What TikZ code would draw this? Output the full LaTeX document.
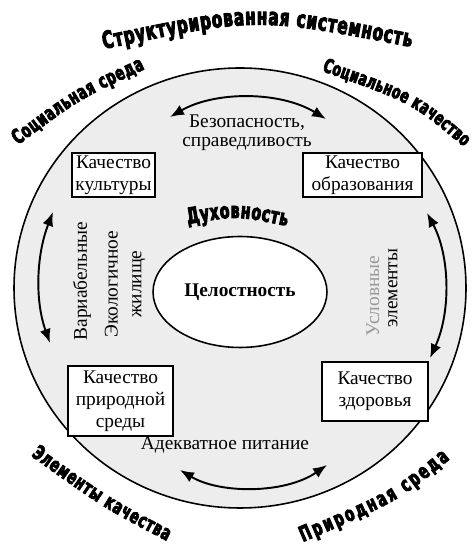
\documentclass[tikz,border=0pt]{standalone}
\usepackage{fontspec}
\setmainfont{Liberation Serif}
\newfontfamily\heavyfont[FakeStretch=0.64,FakeBold=4]{DejaVu Sans Bold}
\usetikzlibrary{shapes.geometric,decorations.text,arrows.meta}

\begin{document}
\begin{tikzpicture}[x=0.02cm, y=0.02cm, font=\fontsize{11}{12.5}\selectfont,
  qualbox/.style={draw, line width=0.9pt, fill=white, align=center, inner sep=1pt},
  twoway/.style={line width=1.1pt, {Latex[length=2.8mm,width=2.2mm]}-{Latex[length=2.8mm,width=2.2mm]}},
  arctext/.style={decorate, decoration={text along path, text align={fit to path}, text={#1}}}]
  \useasboundingbox (0,0) rectangle (472,546);
  \draw[line width=0.9pt, fill=black!7] (240,258) ellipse [x radius=226, y radius=220];
  \node[draw, ellipse, line width=0.9pt, fill=white, minimum width=2.62cm, minimum height=2.22cm, font=\bfseries\fontsize{11}{12.5}\selectfont] (whole) at (240,254) {Целостность};
  \node[qualbox, minimum width=1.66cm, minimum height=0.88cm] (culture) at (113.5,371) {Качество\\культуры};
  \node[qualbox, minimum width=2.38cm, minimum height=0.88cm] (educ) at (362.5,371) {Качество\\образования};
  \node[qualbox, minimum width=2.1cm, minimum height=1.4cm] (nature) at (120.5,145) {Качество\\природной\\среды};
  \node[qualbox, minimum width=2.12cm, minimum height=1.18cm] (health) at (375,154.5) {Качество\\здоровья};
  \node[align=center, font=\fontsize{11}{11}\selectfont] (safety) at (247,413) {Безопасность,\\справедливость};
  \node (food) at (225,101) {Адекватное питание};
  \node[rotate=90] (variab) at (82,265) {Вариабельные};
  \node[rotate=90, align=center, font=\fontsize{11}{13.5}\selectfont] (house) at (125,262) {Экологичное\\жилище};
  \node[rotate=90, text=black!40] (cond) at (373,250) {Условные};
  \node[rotate=90] (elems) at (393,258) {элементы};
  \coordinate (tl) at (170,429);
  \coordinate (tr) at (326,427);
  \coordinate (lt) at (53,334);
  \coordinate (lb) at (50,203);
  \coordinate (rt) at (427,333);
  \coordinate (rb) at (430,188);
  \coordinate (bl) at (180,76);
  \coordinate (br) at (327,81);
  \draw[twoway] (tl) .. controls (215,455) and (280,455) .. (tr);
  \draw[twoway] (lt) .. controls (36,290) and (35,245) .. (lb);
  \draw[twoway] (rt) .. controls (450,290) and (451,234) .. (rb);
  \draw[twoway] (bl) .. controls (220,52) and (285,52) .. (br);
  \path[arctext={|\heavyfont\fontsize{12.5}{14}\selectfont|Духовность}] (188,322) .. controls (236.8,330.3) .. (287,320);
  \path[arctext={|\heavyfont\fontsize{13.5}{15}\selectfont|Структурированная системность}] (104,497) .. controls (257,529) .. (411,499);
  \path[arctext={|\heavyfont\fontsize{11.5}{13}\selectfont|Социальная среда}] (18,401) .. controls (79.5,447) .. (145,477);
  \path[arctext={|\heavyfont\fontsize{11}{13}\selectfont|Социальное качество}] (322,475) .. controls (412,443) .. (464,399);
  \path[arctext={|\heavyfont\fontsize{11.5}{13}\selectfont|Элементы качества}] (31,90) .. controls (104,38) .. (167,5);
  \path[arctext={|\heavyfont\fontsize{12}{14}\selectfont|Природная среда}] (303,4) .. controls (398.5,45.2) .. (450,87);
\end{tikzpicture}
\end{document}
